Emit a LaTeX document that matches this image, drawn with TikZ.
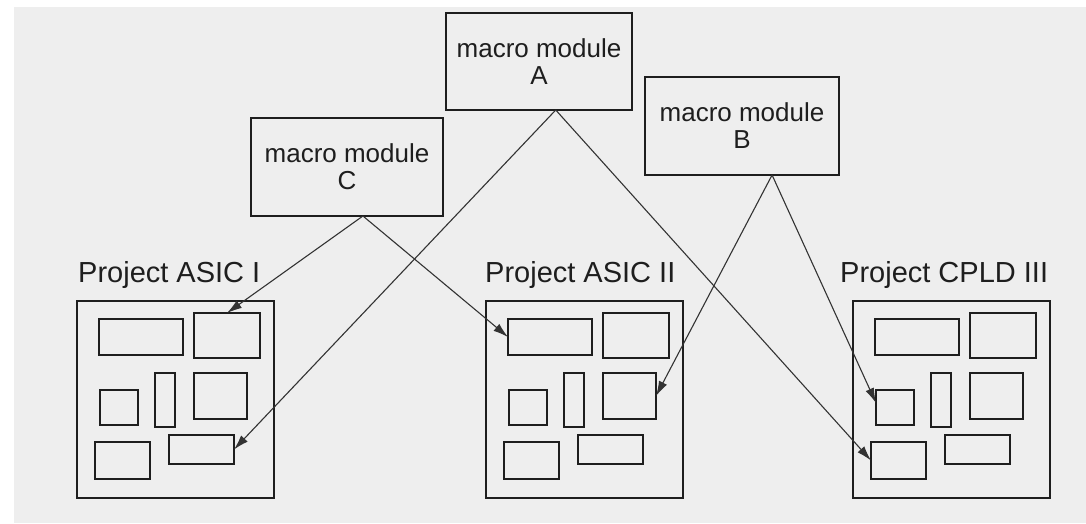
\documentclass[tikz,border=0pt]{standalone}
\usepackage{fontspec}
\setmainfont{Liberation Sans}
\usetikzlibrary{arrows.meta,calc}
\definecolor{bg}{HTML}{EEEEEE}
\definecolor{ink}{HTML}{1E1E1E}
\definecolor{wire}{HTML}{333333}
\tikzset{
  box/.style={draw=ink, line width=2pt, fill=bg, inner sep=0pt, outer sep=0pt, anchor=north west},
  macro/.style={box, align=center, font=\fontsize{26}{27}\selectfont, text=ink},
  link/.style={draw=wire, line width=1.1pt, -{Latex[length=15pt,width=9pt]}},
  ptitle/.style={font=\fontsize{29}{30}\selectfont, text=ink, anchor=base west, inner sep=0pt},
  project/.pic={
    \node[box, line width=2.6pt, minimum width=197pt, minimum height=197pt] (-out) at (0,0) {};
    \node[box, minimum width=84pt, minimum height=36pt] (-r1) at (22,18) {};
    \node[box, minimum width=66pt, minimum height=45pt] (-r2) at (117,12) {};
    \node[box, minimum width=20pt, minimum height=54pt] (-r3) at (78,72) {};
    \node[box, minimum width=53pt, minimum height=46pt] (-r4) at (117,72) {};
    \node[box, minimum width=38pt, minimum height=35pt] (-r5) at (23,89) {};
    \node[box, minimum width=55pt, minimum height=37pt] (-r6) at (18,141) {};
    \node[box, minimum width=65pt, minimum height=29pt] (-r7) at (92,134) {};
  }
}
\begin{document}
\begin{tikzpicture}[x=1pt, y=-1pt]
  \useasboundingbox (0,0) rectangle (1086,523);
  \fill[white] (0,0) rectangle (1086,523);
  \fill[bg] (14,7) rectangle (1086,523);

  % macro modules
  \node[macro, minimum width=186pt, minimum height=97pt] (A) at (446,13) {macro module\\A};
  \node[macro, minimum width=194pt, minimum height=98pt] (B) at (645,77) {macro module\\B};
  \node[macro, minimum width=192pt, minimum height=98pt] (C) at (251,118) {macro module\\C};

  % projects
  \node[ptitle] (t1) at (78,282) {Project ASIC I};
  \node[ptitle] (t2) at (485,282) {Project ASIC II};
  \node[ptitle] (t3) at (840,282) {Project CPLD III};
  \pic (p1) at (77,301) {project};
  \pic (p2) at (486,301) {project};
  \pic (p3) at (853,301) {project};

  % connector origins
  \coordinate (Aout) at ($(A.south west)!0.59!(A.south east)$);
  \coordinate (Bout) at ($(B.south west)!0.655!(B.south east)$);
  \coordinate (Cout) at ($(C.south west)!0.583!(C.south east)$);

  % connectors
  \draw[link] (Aout) -- (p1-r7.east);
  \draw[link] (Aout) -- (p3-r6.west);
  \draw[link] (Cout) -- (p1-r2.north);
  \draw[link] (Cout) -- (p2-r1.west);
  \draw[link] (Bout) -- (p2-r4.east);
  \draw[link] (Bout) -- ($(p3-r5.west)+(0,-4.5)$);
\end{tikzpicture}
\end{document}
